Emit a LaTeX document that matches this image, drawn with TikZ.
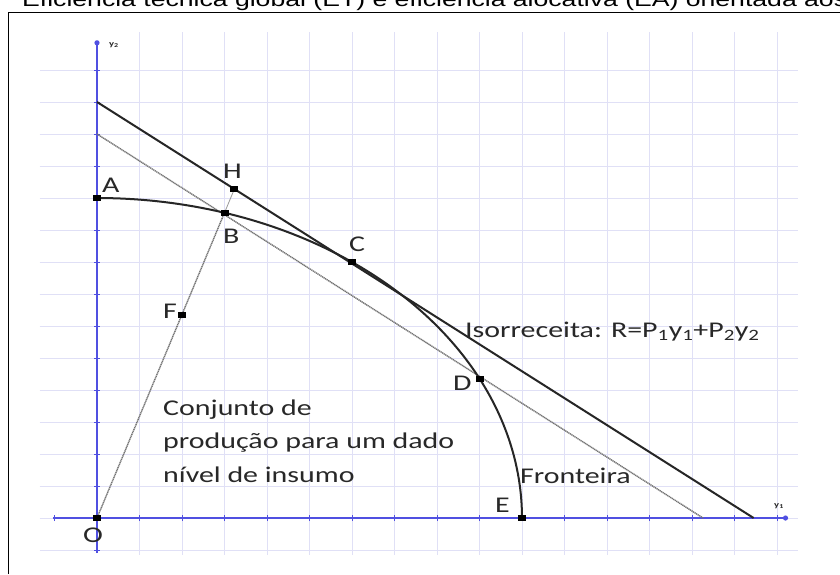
\documentclass[tikz,border=0pt]{standalone}
\usepackage{fontspec}
\setmainfont{Carlito}[FakeStretch=1.33]
\newfontfamily\titlefont{Liberation Sans}[FakeStretch=1.33]
\definecolor{gridc}{RGB}{224,224,246}
\definecolor{axisc}{RGB}{80,80,225}
\definecolor{txt}{RGB}{40,40,40}
\tikzset{
 gridline/.style={gridc, line width=1pt},
 axisline/.style={axisc, line width=1.6pt},
 tickmark/.style={axisc, line width=1pt},
 isoline/.style={black!85, line width=2pt},
 isolow/.style={black!55, line width=1.4pt, dash pattern=on 1.2pt off 0.6pt},
 front/.style={black!85, line width=2pt},
 rayline/.style={black!55, line width=1.4pt, dash pattern=on 1.2pt off 0.6pt},
 thinray/.style={black!40, line width=0.8pt},
 ptmark/.style={fill=black, inner sep=0pt, minimum width=8pt, minimum height=6pt, rectangle},
 lbl/.style={font=\fontsize{22.5}{27}\selectfont, text=txt, inner sep=0pt, anchor=base west},
 axlbl/.style={font=\fontsize{8}{9}\selectfont\bfseries, text=txt, inner sep=0pt},
}
\begin{document}
\begin{tikzpicture}[x=1pt,y=-1pt]
\useasboundingbox (0,0) rectangle (840,574);
\fill[white] (0,0) rectangle (840,574);
\node[anchor=base west, inner sep=0pt, font=\titlefont\fontsize{20}{24}\selectfont] (title) at (22,6) {Eficiência técnica global (ET) e eficiência alocativa (EA) orientada aos};
\draw[line width=1.6pt] (8.5,574) -- (8.5,12.5) -- (840,12.5);

\begin{scope}[shift={(97,518)}, x=42.5pt, y=32pt]
 % grid
 \foreach \j in {-1,...,14} \draw[gridline] (-1.35,\j) -- (16.5,\j);
 \foreach \i in {1,...,16} \draw[gridline] (\i,-1.15) -- (\i,15.2);
 % axes
 \coordinate (xa0) at (-1.04,0);
 \coordinate (xa1) at (16.2,0);
 \coordinate (ya0) at (0,-1.1);
 \coordinate (ya1) at (0,14.85);
 \draw[axisline] (xa0) -- (xa1);
 \draw[axisline] (ya0) -- (ya1);
 \foreach \i in {-1,...,16} \draw[tickmark] (\i,0) ++(0,-3pt) -- ++(0,6pt);
 \foreach \j in {-1,...,14} \draw[tickmark] (0,\j) ++(-3pt,0) -- ++(6pt,0);
 \fill[axisc] (xa1) circle[radius=2.6pt];
 \fill[axisc] (ya1) circle[radius=2.6pt];
 % points
 \coordinate (O) at (0,0);
 \coordinate (A) at (0,10);
 \coordinate (B) at (3,9.539);
 \coordinate (C) at (6,8);
 \coordinate (D) at (9,4.359);
 \coordinate (E) at (10,0);
 \coordinate (F) at (2,6.359);
 \coordinate (H) at (3.235,10.287);
 \coordinate (U1) at (0,13);
 \coordinate (U2) at (15.45,0);
 \coordinate (L1) at (0,12);
 \coordinate (L2) at (14.26,0);
 % lines
 \draw[isolow] (L1) -- (L2);
 \draw[isoline] (U1) -- (U2);
 \draw[front] plot[domain=90:0, samples=90] ({10*cos(\x)},{10*sin(\x)});
 \draw[rayline] (O) -- (B);
 \draw[thinray] (B) -- (H);
 \foreach \p in {O,A,B,C,D,E,F,H} \node[ptmark] (m\p) at (\p) {};
\end{scope}

% labels
\node[axlbl, anchor=center] (ylab) at (114,45) {y\textsubscript{2}};
\node[axlbl, anchor=center] (xlab) at (779,506) {y\textsubscript{1}};
\node[lbl] (lA) at (102,192) {A};
\node[lbl] (lH) at (223,178) {H};
\node[lbl] (lB) at (223,243) {B};
\node[lbl] (lC) at (349,251) {C};
\node[lbl] (lD) at (453,390) {D};
\node[lbl] (lE) at (495,512) {E};
\node[lbl] (lF) at (163,318) {F};
\node[lbl] (lO) at (83,542) {O};
\node[lbl] (lfront) at (520,483) {Fronteira};
\node[lbl] (liso) at (465,337) {Isorreceita: R=P\textsubscript{1}y\textsubscript{1}+P\textsubscript{2}y\textsubscript{2}};
\node[lbl] (lc1) at (163,415) {Conjunto de};
\node[lbl] (lc2) at (163,448) {produção para um dado};
\node[lbl] (lc3) at (163,482) {nível de insumo};
\end{tikzpicture}
\end{document}
